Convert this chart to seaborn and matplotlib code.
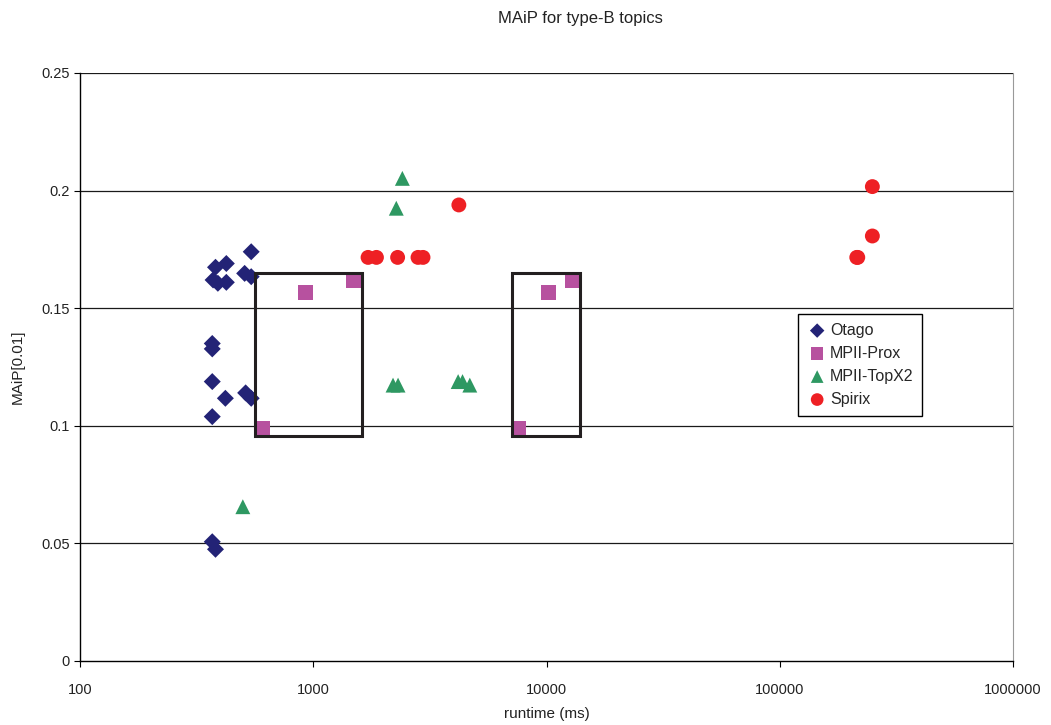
import numpy as np
import pandas as pd
import matplotlib
matplotlib.use("Agg")
import matplotlib.pyplot as plt
from matplotlib.patches import Rectangle
import seaborn as sns

# ---- data ----
otago_x = [542, 381, 424, 372, 390, 424, 508, 542, 369, 369, 369, 420, 513, 542, 369, 369, 381]
otago_y = [0.174, 0.1674, 0.169, 0.162, 0.1606, 0.161, 0.1648, 0.1634, 0.135, 0.1327, 0.1188,
           0.1117, 0.114, 0.1117, 0.1039, 0.0507, 0.0475]
prox_x = [607, 925, 1490, 7600, 10240, 12970]
prox_y = [0.0988, 0.1568, 0.1617, 0.0989, 0.1568, 0.1617]
topx_x = [499, 2410, 2270, 2198, 2310, 4180, 4365, 4690]
topx_y = [0.0656, 0.2052, 0.1925, 0.1173, 0.1173, 0.1188, 0.1188, 0.1173]
spirix_x = [4210, 1718, 1866, 2300, 2813, 2955, 249500, 249500, 213900, 216000]
spirix_y = [0.1939, 0.1716, 0.1716, 0.1716, 0.1716, 0.1716, 0.2017, 0.1807, 0.1716, 0.1716]

series_names = ["Otago", "MPII-Prox", "MPII-TopX2", "Spirix"]
# highlight boxes (x_min, x_max, y_min, y_max)
box_x0 = [561, 7098]
box_x1 = [1615, 13900]
box_y0 = [0.0957, 0.0957]
box_y1 = [0.165, 0.165]

y_ticks = [0, 0.05, 0.1, 0.15, 0.2, 0.25]
y_tick_labels = ["0", "0.05", "0.1", "0.15", "0.2", "0.25"]
x_ticks = [100, 1000, 10000, 100000, 1000000]
x_tick_labels = ["100", "1000", "10000", "100000", "1000000"]

df = pd.DataFrame({
    "runtime": otago_x + prox_x + topx_x + spirix_x,
    "maip": otago_y + prox_y + topx_y + spirix_y,
    "run": (["Otago"] * len(otago_x) + ["MPII-Prox"] * len(prox_x)
            + ["MPII-TopX2"] * len(topx_x) + ["Spirix"] * len(spirix_x)),
})

sns.set_theme(style="white")
plt.rcParams["font.family"] = ["Liberation Sans", "DejaVu Sans"]

fig = plt.figure(figsize=(10.51, 7.25), dpi=100)
ax = fig.add_axes([80 / 1051, 64 / 725, 933 / 1051, 588 / 725])

palette = {"Otago": "#232376", "MPII-Prox": "#b7519f", "MPII-TopX2": "#2e9862", "Spirix": "#ee2024"}
markers = {"Otago": "D", "MPII-Prox": "s", "MPII-TopX2": "^", "Spirix": "o"}
sizes = {"Otago": 75, "MPII-Prox": 115, "MPII-TopX2": 115, "Spirix": 115}

for name in series_names:
    sub = df[df["run"] == name]
    sns.scatterplot(data=sub, x="runtime", y="maip", color=palette[name], marker=markers[name],
                    s=sizes[name], edgecolor="none", linewidth=0, ax=ax, label=name, zorder=3)

ax.set_xscale("log")
ax.set_xlim(100, 1000000)
ax.set_ylim(0, 0.25)
ax.set_yticks(y_ticks)
ax.set_yticklabels(y_tick_labels)
ax.set_xticks(x_ticks)
ax.set_xticklabels(x_tick_labels)
ax.xaxis.set_minor_locator(matplotlib.ticker.NullLocator())

for yv in y_ticks[1:]:
    ax.axhline(yv, color="#1a1a1a", lw=0.9, zorder=1)

for x0, x1, y0, y1 in zip(box_x0, box_x1, box_y0, box_y1):
    ax.add_patch(Rectangle((x0, y0), x1 - x0, y1 - y0, fill=False, edgecolor="#231f20",
                           lw=2.2, zorder=4))

for side in ["left", "bottom"]:
    ax.spines[side].set_color("#000000")
    ax.spines[side].set_linewidth(1.0)
ax.spines["right"].set_color("#999999")
ax.spines["right"].set_linewidth(0.8)
ax.spines["top"].set_visible(False)

ax.tick_params(axis="both", which="major", direction="out", length=4, width=0.8,
               color="#000000", labelsize=10.5, labelcolor="#222222", bottom=True, left=True)
ax.tick_params(axis="x", pad=12)

ax.set_xlabel("runtime (ms)", fontsize=11, color="#222222", labelpad=7)
ax.set_ylabel("MAiP[0.01]", fontsize=11, color="#222222", labelpad=12)

fig.text(580 / 1051, 1 - 18 / 725, "MAiP for type-B topics", ha="center", va="center",
         fontsize=12, color="#222222")

leg = ax.legend(loc="upper left", bbox_to_anchor=((798 - 80) / 933, (661 - 314) / 588),
                borderaxespad=0, frameon=True, fancybox=False, fontsize=11.5, markerscale=0.85,
                handletextpad=0.15, handlelength=1.3, labelspacing=0.5, borderpad=0.55)
leg.get_frame().set_edgecolor("#000000")
leg.get_frame().set_linewidth(1.0)
leg.get_frame().set_alpha(1)

fig.savefig("out.png", dpi=100)
